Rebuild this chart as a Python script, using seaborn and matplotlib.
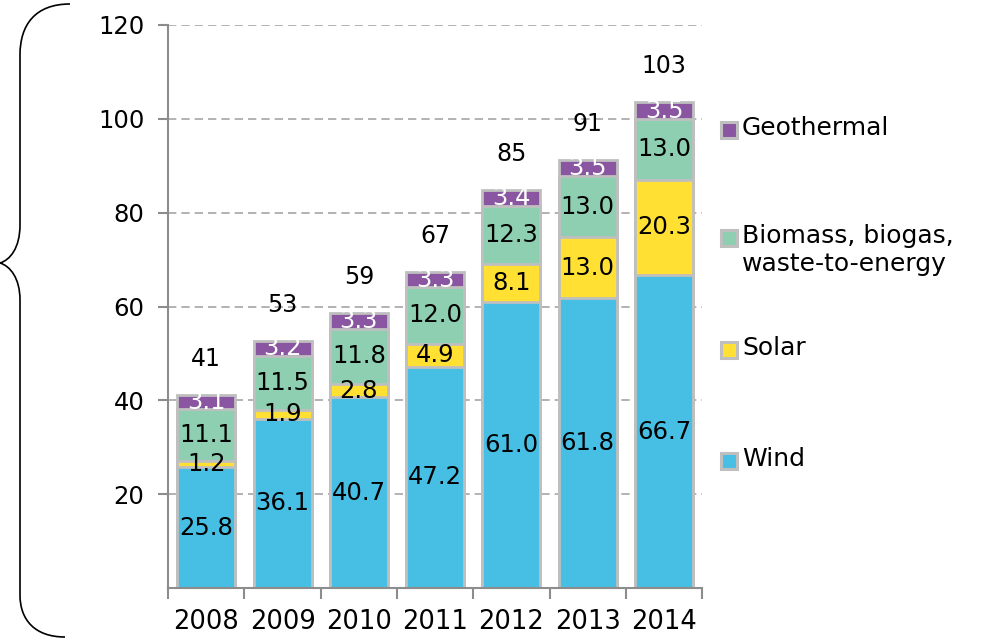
import numpy as np
import pandas as pd
import seaborn as sns
import matplotlib.pyplot as plt
from matplotlib.path import Path
from matplotlib.patches import PathPatch
from matplotlib.lines import Line2D

years = ['2008', '2009', '2010', '2011', '2012', '2013', '2014']
wind = [25.8, 36.1, 40.7, 47.2, 61.0, 61.8, 66.7]
solar = [1.2, 1.9, 2.8, 4.9, 8.1, 13.0, 20.3]
biomass = [11.1, 11.5, 11.8, 12.0, 12.3, 13.0, 13.0]
geothermal = [3.1, 3.2, 3.3, 3.3, 3.4, 3.5, 3.5]
totals = [41, 53, 59, 67, 85, 91, 103]

series = ['Wind', 'Solar', 'Biomass, biogas,\nwaste-to-energy', 'Geothermal']
colors = ['#47BFE4', '#FFE033', '#8DCFB0', '#8A56A2']
label_colors = ['black', 'black', 'black', 'white']

sns.set_style('white')
plt.rcParams['font.family'] = ['DejaVu Sans']
plt.rcParams['text.color'] = 'black'
plt.rcParams['xtick.color'] = 'black'
plt.rcParams['ytick.color'] = 'black'

fig = plt.figure(figsize=(9.89, 6.4), dpi=100)
ax = fig.add_axes([0.170, 0.081, 0.540, 0.880])

df = pd.DataFrame({'Year': years, 'Wind': wind, 'Solar': solar,
                   'Biomass': biomass, 'Geothermal': geothermal})
layers = ['Wind', 'Solar', 'Biomass', 'Geothermal']
cum = df[layers].cumsum(axis=1)

# draw cumulative bars from the top layer down so each one covers the next
for i in range(len(layers) - 1, -1, -1):
    sns.barplot(data=cum.assign(Year=df['Year']), x='Year', y=layers[i], ax=ax,
                color=colors[i], width=0.76, edgecolor='#BFBFBF', linewidth=2.0,
                saturation=1)

# segment labels
for j in range(len(years)):
    base = 0
    for i, name in enumerate(layers):
        v = df[name][j]
        ax.text(j, base + v / 2, f'{v:.1f}', ha='center', va='center',
                fontsize=17.5, color=label_colors[i])
        base += v
    ax.text(j, base + 7.7, str(totals[j]), ha='center', va='center', fontsize=17)

ax.set_ylim(0, 120)
ax.set_xlim(-0.5, 6.5)
ax.set_yticks([20, 40, 60, 80, 100, 120])
ax.set_xlabel('')
ax.set_ylabel('')
ax.yaxis.grid(True, linestyle=(0, (5, 3)), color='#A6A6A6', linewidth=1.2)
ax.set_axisbelow(True)
for s in ['top', 'right']:
    ax.spines[s].set_visible(False)
for s in ['left', 'bottom']:
    ax.spines[s].set_color('#8C8C8C')
    ax.spines[s].set_linewidth(1.5)
ax.tick_params(axis='y', length=7, width=1.5, color='#8C8C8C', labelsize=17.5,
               pad=10, left=True, direction='out')
ax.tick_params(axis='x', which='major', length=0, labelsize=18.5, pad=15)
ax.set_xticks(np.arange(-0.5, 7, 1), minor=True)
ax.tick_params(axis='x', which='minor', length=8, width=1.5, color='#8C8C8C',
               bottom=True, direction='out')

# legend, top entry first
ys = [130, 238, 350, 461]
for k, i in enumerate([3, 2, 1, 0]):
    y = 1 - ys[k] / 640
    fig.add_artist(Line2D([729 / 989], [y], marker='s', markersize=11,
                          markerfacecolor=colors[i], markeredgecolor='#BFBFBF',
                          markeredgewidth=2.2, transform=fig.transFigure))
    fig.text(742 / 989, y + 14 / 640, series[i], ha='left', va='top', fontsize=18,
             linespacing=1.2)

# left curly brace
pts = [(70, 4), (35, 4), (20, 25), (20, 55), (20, 225), (20, 248), (10, 260),
       (0, 263), (10, 266), (20, 278), (20, 300), (20, 595), (20, 620), (35, 637),
       (65, 637)]
codes = [Path.MOVETO, Path.CURVE4, Path.CURVE4, Path.CURVE4, Path.LINETO,
         Path.CURVE4, Path.CURVE4, Path.CURVE4, Path.CURVE4, Path.CURVE4,
         Path.CURVE4, Path.LINETO, Path.CURVE4, Path.CURVE4, Path.CURVE4]
verts = [(x / 989, 1 - y / 640) for x, y in pts]
fig.add_artist(PathPatch(Path(verts, codes), fill=False, lw=1.2, color='black',
                         transform=fig.transFigure))

fig.savefig('out.png', dpi=100)
